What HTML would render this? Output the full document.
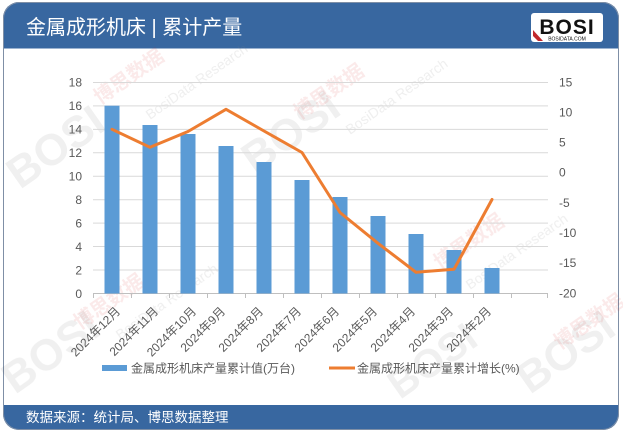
<!DOCTYPE html>
<html><head><meta charset="utf-8"><style>
html,body{margin:0;padding:0;background:#fff;}
svg{display:block;}
text{font-family:"Liberation Sans","Noto Sans CJK SC",sans-serif;}
</style></head><body>
<svg width="623" height="433" viewBox="0 0 623 433" xmlns="http://www.w3.org/2000/svg">
<defs>
<clipPath id="fr"><rect x="3" y="2" width="616" height="428" rx="16" ry="16"/></clipPath>
</defs>
<rect x="0" y="0" width="623" height="433" fill="#fff"/>
<g clip-path="url(#fr)">
<rect x="3" y="2" width="616" height="428" fill="#fff"/>
<rect x="3" y="2" width="616" height="46.5" fill="#3867a0"/>
<rect x="3" y="405" width="616" height="25" fill="#3867a0"/>
</g>
<rect x="3.5" y="2.5" width="615" height="427" rx="16" ry="16" fill="none" stroke="#7f8fa6" stroke-width="1"/>

<!-- watermarks -->
<g font-weight="bold" fill="#000" opacity="0.06">
<text x="20" y="190" font-size="44" transform="rotate(-35 20 190)">BOSI</text>
<text x="255" y="175" font-size="44" transform="rotate(-35 255 175)">BOSI</text>
<text x="15" y="395" font-size="44" transform="rotate(-35 15 395)">BOSI</text>
<text x="530" y="395" font-size="44" transform="rotate(-35 530 395)">BOSI</text>
<text x="400" y="400" font-size="40" transform="rotate(-35 400 400)">BOSI</text>
</g>
<g fill="#d03030" opacity="0.1" font-size="20" font-weight="bold">
<text x="100" y="105" transform="rotate(-35 100 105)">博思数据</text>
<text x="300" y="120" transform="rotate(-35 300 120)">博思数据</text>
<text x="440" y="270" transform="rotate(-35 440 270)">博思数据</text>
<text x="80" y="330" transform="rotate(-35 80 330)">博思数据</text>
<text x="560" y="350" transform="rotate(-35 560 350)">博思数据</text>
</g>
<g fill="#808080" opacity="0.13" font-size="14" font-family="Liberation Serif,serif">
<text x="150" y="120" transform="rotate(-35 150 120)">BosiData Research</text>
<text x="350" y="135" transform="rotate(-35 350 135)">BosiData Research</text>
<text x="470" y="290" transform="rotate(-35 470 290)">BosiData Research</text>
<text x="120" y="340" transform="rotate(-35 120 340)">BosiData Research</text>
</g>

<!-- title -->
<text x="26" y="34" font-size="20" fill="#fff">金属成形机床 | 累计产量</text>
<!-- logo -->
<rect x="531" y="13" width="72" height="29" rx="3" fill="#fff"/>
<text x="567" y="34" font-size="21" font-weight="bold" fill="#111" text-anchor="middle" letter-spacing="1">BOSI</text>
<text x="567" y="40.5" font-size="5" fill="#111" text-anchor="middle">BOSIDATA.COM</text>
<path d="M533 30 L543 41 L538 41 L533 36 Z" fill="#c0282d"/>

<!-- gridlines -->
<g stroke="#d9d9d9" stroke-width="1">
<line x1="93" y1="82.5" x2="548" y2="82.5"/>
<line x1="93" y1="105.9" x2="548" y2="105.9"/>
<line x1="93" y1="129.4" x2="548" y2="129.4"/>
<line x1="93" y1="152.8" x2="548" y2="152.8"/>
<line x1="93" y1="176.2" x2="548" y2="176.2"/>
<line x1="93" y1="199.7" x2="548" y2="199.7"/>
<line x1="93" y1="223.1" x2="548" y2="223.1"/>
<line x1="93" y1="246.5" x2="548" y2="246.5"/>
<line x1="93" y1="270" x2="548" y2="270"/>
</g>
<line x1="93" y1="293.5" x2="548" y2="293.5" stroke="#bfbfbf" stroke-width="1"/>
<g stroke="#bfbfbf" stroke-width="1">
<line x1="93.5" y1="293" x2="93.5" y2="298"/>
<line x1="131.5" y1="293" x2="131.5" y2="298"/>
<line x1="169.5" y1="293" x2="169.5" y2="298"/>
<line x1="207.5" y1="293" x2="207.5" y2="298"/>
<line x1="245.5" y1="293" x2="245.5" y2="298"/>
<line x1="283.5" y1="293" x2="283.5" y2="298"/>
<line x1="321.5" y1="293" x2="321.5" y2="298"/>
<line x1="359.5" y1="293" x2="359.5" y2="298"/>
<line x1="397.5" y1="293" x2="397.5" y2="298"/>
<line x1="435.5" y1="293" x2="435.5" y2="298"/>
<line x1="473.5" y1="293" x2="473.5" y2="298"/>
<line x1="511.5" y1="293" x2="511.5" y2="298"/>
<line x1="547.5" y1="293" x2="547.5" y2="298"/>
</g>

<!-- left axis labels -->
<g font-size="12" fill="#595959" text-anchor="end">
<text x="82" y="86.5">18</text>
<text x="82" y="110">16</text>
<text x="82" y="133.5">14</text>
<text x="82" y="157">12</text>
<text x="82" y="180.5">10</text>
<text x="82" y="204">8</text>
<text x="82" y="227.5">6</text>
<text x="82" y="251">4</text>
<text x="82" y="274.5">2</text>
<text x="82" y="298">0</text>
</g>
<!-- right axis labels -->
<g font-size="12" fill="#595959" text-anchor="start">
<text x="559" y="86.5">15</text>
<text x="559" y="116.5">10</text>
<text x="559" y="146.5">5</text>
<text x="559" y="176.5">0</text>
<text x="559" y="207">-5</text>
<text x="559" y="237">-10</text>
<text x="559" y="267">-15</text>
<text x="559" y="297.5">-20</text>
</g>

<!-- bars -->
<g fill="#5b9bd5">
<rect x="104.5" y="105.7" width="15" height="187.8"/>
<rect x="142.5" y="125" width="15" height="168.5"/>
<rect x="180.5" y="134" width="15" height="159.5"/>
<rect x="218.5" y="146" width="15" height="147.5"/>
<rect x="256.5" y="162" width="15" height="131.5"/>
<rect x="294.5" y="180" width="15" height="113.5"/>
<rect x="332.5" y="197" width="15" height="96.5"/>
<rect x="370.5" y="216" width="15" height="77.5"/>
<rect x="408.5" y="234" width="15" height="59.5"/>
<rect x="446.5" y="250" width="15" height="43.5"/>
<rect x="484.5" y="268" width="15" height="25.5"/>
</g>

<!-- line -->
<polyline points="112,129.3 150,147.3 188,131.5 226,109.3 264,131 302,152.5 340,212.5 378,243.3 416,272.3 454,269.3 492,199.5" fill="none" stroke="#ed7d31" stroke-width="3" stroke-linejoin="round" stroke-linecap="round"/>

<!-- x labels -->
<g font-size="12" fill="#595959" text-anchor="end">
<text x="121" y="312" transform="rotate(-45 121 312)">2024年12月</text>
<text x="159" y="312" transform="rotate(-45 159 312)">2024年11月</text>
<text x="197" y="312" transform="rotate(-45 197 312)">2024年10月</text>
<text x="226" y="312" transform="rotate(-45 226 312)">2024年9月</text>
<text x="264" y="312" transform="rotate(-45 264 312)">2024年8月</text>
<text x="302" y="312" transform="rotate(-45 302 312)">2024年7月</text>
<text x="340" y="312" transform="rotate(-45 340 312)">2024年6月</text>
<text x="378" y="312" transform="rotate(-45 378 312)">2024年5月</text>
<text x="416" y="312" transform="rotate(-45 416 312)">2024年4月</text>
<text x="454" y="312" transform="rotate(-45 454 312)">2024年3月</text>
<text x="492" y="312" transform="rotate(-45 492 312)">2024年2月</text>
</g>

<!-- legend -->
<rect x="102" y="365" width="25" height="6" fill="#5b9bd5"/>
<text x="131" y="372.5" font-size="12" fill="#595959">金属成形机床产量累计值(万台)</text>
<line x1="329" y1="368" x2="355" y2="368" stroke="#ed7d31" stroke-width="3"/>
<text x="357" y="372.5" font-size="12" fill="#595959">金属成形机床产量累计增长(%)</text>

<!-- footer -->
<text x="26" y="422" font-size="13.5" fill="#fff">数据来源：统计局、博思数据整理</text>
</svg>
</body></html>
